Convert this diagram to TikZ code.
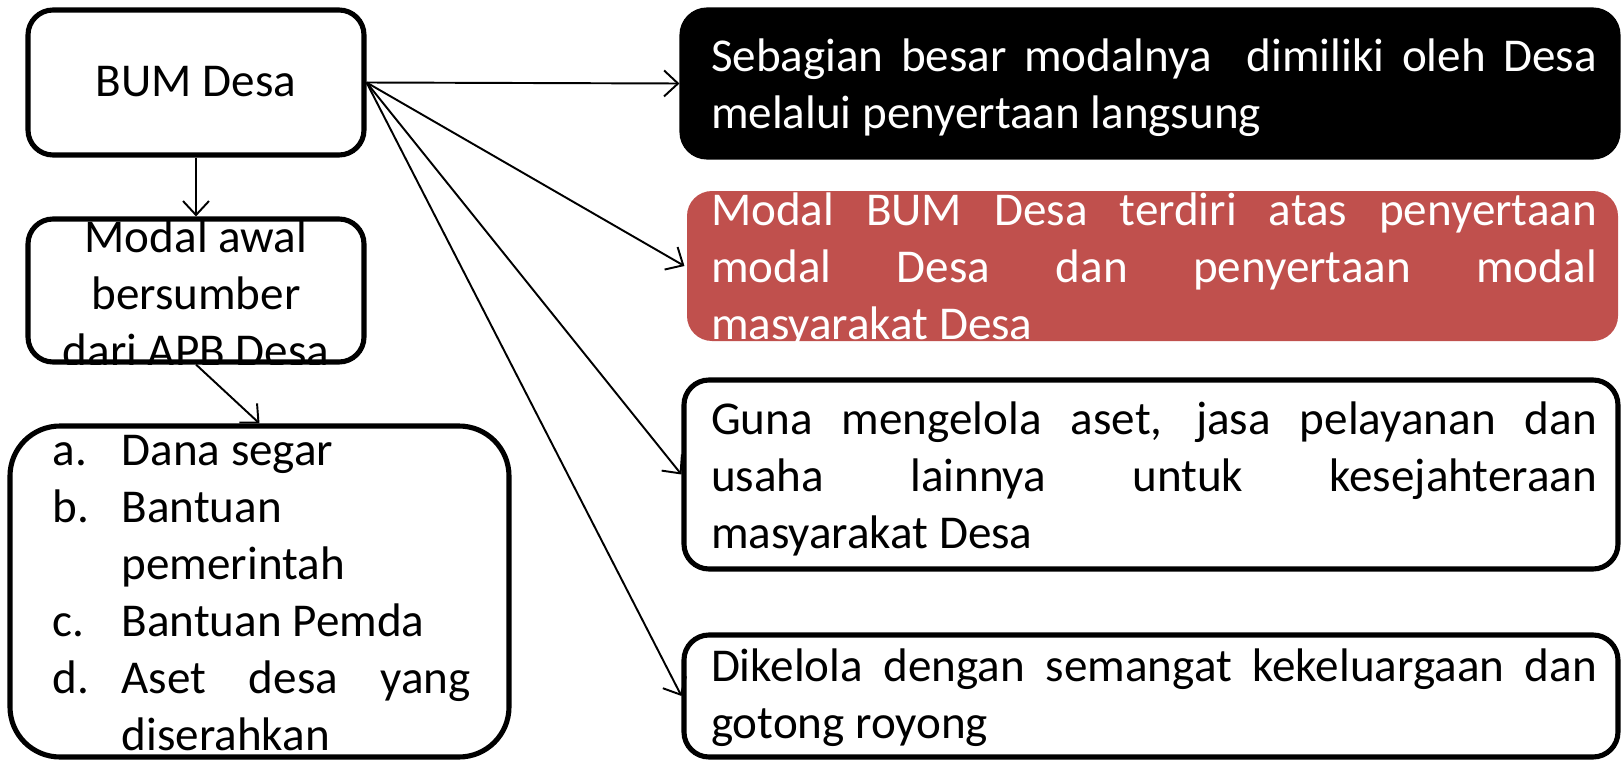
\documentclass[tikz,border=0pt]{standalone}
\usepackage{fontspec}
\setmainfont{Carlito}
\usetikzlibrary{arrows.meta}
\definecolor{merah}{HTML}{C0504D}
\tolerance=10000
\hbadness=10000

\begin{document}
\begin{tikzpicture}[
    kotak/.style={draw, line width=1.45pt, rounded corners=0.25cm, fill=white, inner sep=0pt},
    teks/.style={font=\fontsize{13.4}{16.2}\selectfont, inner sep=0pt},
    isi/.style={teks, text width=8.86cm, align=justify},
    panah/.style={-{Straight Barb[length=1.4mm,width=2.6mm]}, line width=0.55pt}
  ]
  \useasboundingbox (0,0) rectangle (16.21,-7.62);
  % kotak kiri
  \node[kotak, minimum width=3.36cm, minimum height=1.45cm] (bum) at (1.96,-0.825) {};
  \node[kotak, minimum width=3.36cm, minimum height=1.43cm] (modal) at (1.96,-2.905) {};
  \node[kotak, rounded corners=0.5cm, minimum width=4.99cm, minimum height=3.31cm] (list) at (2.595,-5.915) {};
  % kotak kanan
  \node[kotak, fill=black, minimum width=9.36cm, minimum height=1.47cm] (milik) at (11.50,-0.835) {};
  \node[kotak, draw=none, fill=merah, minimum width=9.31cm, minimum height=1.50cm] (modaldesa) at (11.525,-2.66) {};
  \node[kotak, minimum width=9.34cm, minimum height=1.89cm] (guna) at (11.51,-4.745) {};
  \node[kotak, minimum width=9.34cm, minimum height=1.22cm] (kelola) at (11.51,-6.96) {};

  % teks
  \node[teks] (bumtxt) at (1.96,-0.82) {BUM Desa};
  \begin{scope}
    \clip (modal.south west) rectangle (modal.north east);
    \node[teks, align=center] (modaltxt) at (1.96,-2.93) {Modal awal\\ bersumber\\ dari APB Desa};
  \end{scope}
  \node[teks, anchor=west] (listtxt) at (0.52,-5.965) {%
    \begin{tabular}{@{}p{0.69cm}@{}p{3.49cm}@{}}
      a. & Dana segar\\
      b. & Bantuan\newline pemerintah\\
      c. & Bantuan Pemda\\
      d. & Aset desa yang\linebreak diserahkan
    \end{tabular}};
  \node[isi, text=white] (miliktxt) at (11.54,-0.875) {Sebagian besar modalnya~ dimiliki oleh Desa\linebreak melalui penyertaan langsung};
  \begin{scope}
    \clip (modaldesa.south west) rectangle (modaldesa.north east);
    \node[isi, text=white] (modaldesatxt) at (11.54,-2.697) {Modal BUM Desa terdiri atas penyertaan\linebreak modal Desa dan penyertaan modal\linebreak masyarakat Desa};
  \end{scope}
  \node[isi] (gunatxt) at (11.54,-4.79) {Guna mengelola aset, jasa pelayanan dan\linebreak usaha lainnya untuk kesejahteraan\linebreak masyarakat Desa};
  \node[isi] (kelolatxt) at (11.54,-6.975) {Dikelola dengan semangat kekeluargaan dan\linebreak gotong royong};

  % panah
  \draw[panah] (bum) -- (modal);
  \draw[panah] (modal.south) -- (list.north);
  \draw[panah] (bum.east) -- (milik.west);
  \draw[panah] (bum.east) -- (modaldesa.west);
  \draw[panah] (bum.east) -- (guna.west);
  \draw[panah] (bum.east) -- (kelola.west);
\end{tikzpicture}
\end{document}
